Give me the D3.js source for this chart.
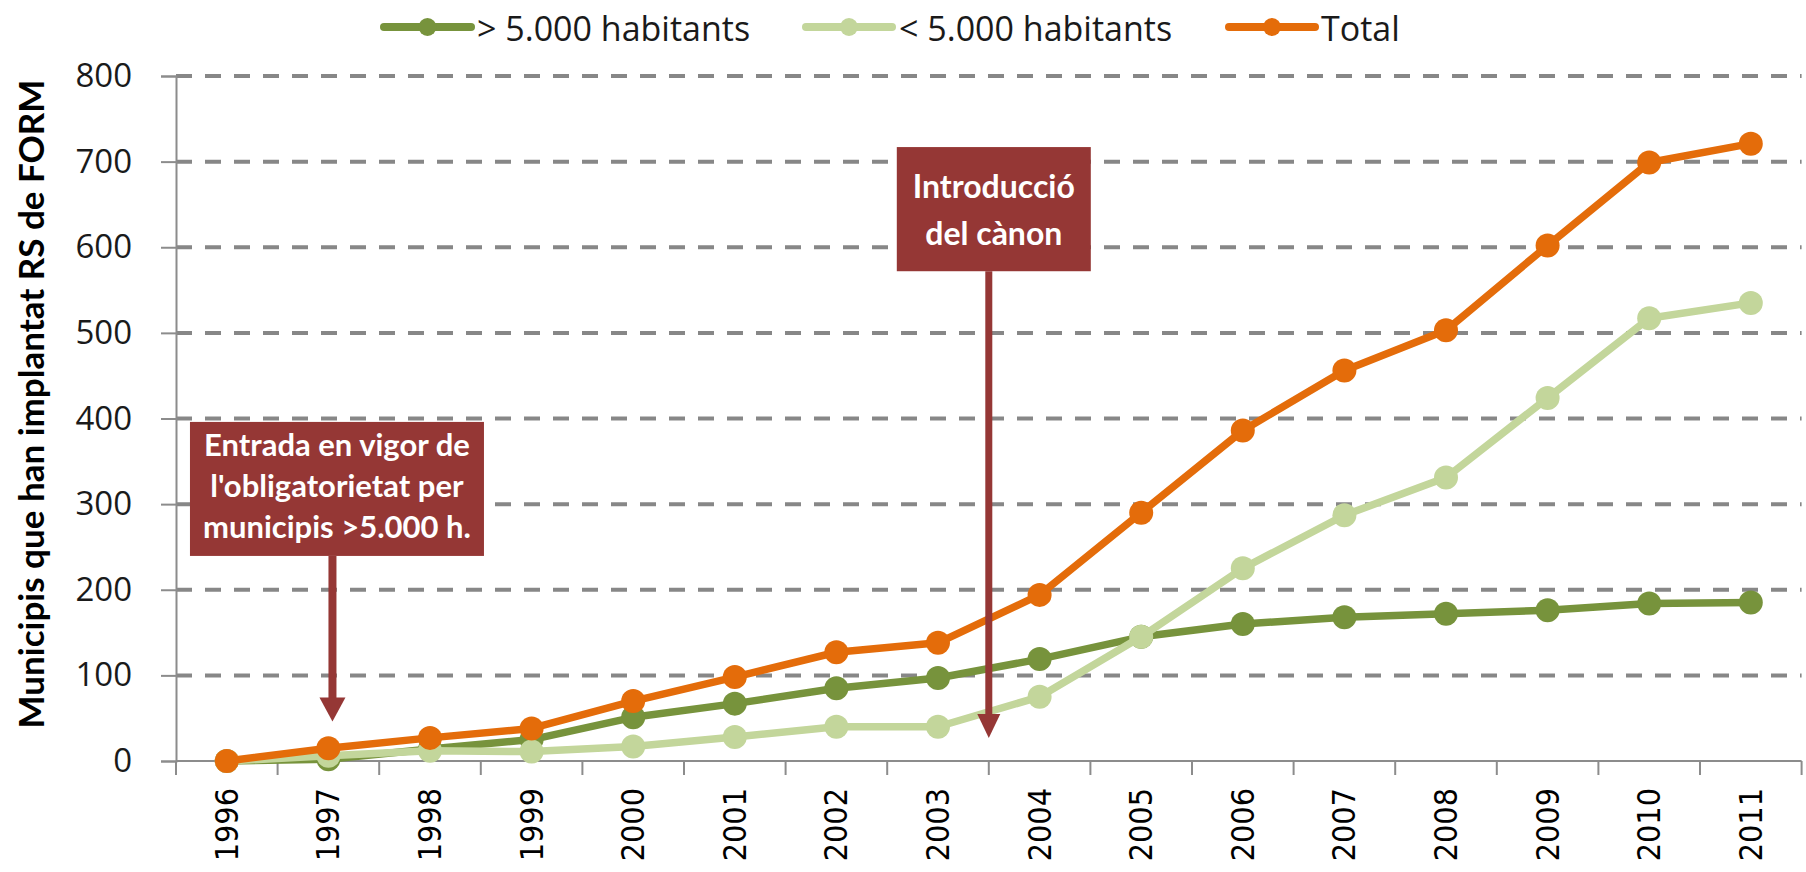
<!DOCTYPE html>
<html>
<head>
<meta charset="utf-8">
<script src="https://cdn.jsdelivr.net/npm/d3@7"></script>
<style>
  html, body { margin: 0; padding: 0; background: #ffffff; }
  svg { display: block; }
</style>
</head>
<body>
<svg id="chart" width="1806" height="872"></svg>
<script>
// ---------------- DATA ----------------
const years = ["1996","1997","1998","1999","2000","2001","2002","2003","2004","2005","2006","2007","2008","2009","2010","2011"];
const over5000  = [0, 2, 14, 25, 51, 67, 85, 97, 119, 145, 160, 168, 172, 176, 184, 185];
const under5000 = [0, 6, 12, 11, 17, 28, 40, 40, 75, 145, 225, 287, 331, 424, 517, 535];
const total     = [0, 15, 27, 38, 70, 98, 127, 138, 194, 290, 386, 456, 503, 602, 699, 721];
const yTicks = [0, 100, 200, 300, 400, 500, 600, 700, 800];
const seriesNames = ["> 5.000 habitants", "< 5.000 habitants", "Total"];
const yTitle = "Municipis que han implantat RS de FORM";
const note1Lines = ["Entrada en vigor de", "l'obligatorietat per", "municipis >5.000 h."];
const note2Lines = ["Introducció", "del cànon"];

// ---------------- LAYOUT ----------------
const colors = ["#77933C", "#C3D69B", "#E46C0A"];
const annColor = "#953735";
const svg = d3.select("#chart");
svg.append("rect").attr("width", 1806).attr("height", 872).attr("fill", "#fff");

const x = d3.scaleBand().domain(years).range([176, 1801.6]).padding(0);
const y = d3.scaleLinear().domain([0, 800]).range([761, 76]);
const cx = d => x(d) + x.bandwidth() / 2;
const xAt = i => x(years[0]) + x.bandwidth() / 2 + i * x.step();

const tickFont = "'Open Sans', 'Noto Sans', sans-serif";
const boldFont = "Lato, 'Open Sans', sans-serif";
const axisColor = "#8c8c8c";

// gridlines
svg.append("g").selectAll("line").data(yTicks.filter(t => t > 0)).join("line")
  .attr("x1", 176).attr("x2", 1801.6)
  .attr("y1", d => y(d)).attr("y2", d => y(d))
  .attr("stroke", "#878787").attr("stroke-width", 4)
  .attr("stroke-dasharray", "16,13");

// y axis
const yAxis = d3.axisLeft(y).tickValues(yTicks).tickSize(15).tickPadding(29).tickFormat(d3.format("d"));
const gy = svg.append("g").attr("transform", "translate(176,0)").call(yAxis);
gy.select(".domain").attr("stroke", axisColor).attr("stroke-width", 2);
gy.selectAll(".tick line").attr("stroke", axisColor).attr("stroke-width", 2);
gy.selectAll(".tick text").attr("font-family", tickFont).attr("font-size", 33).attr("fill", "#1a1a1a");

// x axis line and boundary ticks
svg.append("line").attr("x1", 176).attr("x2", 1801.6).attr("y1", y(0)).attr("y2", y(0))
  .attr("stroke", axisColor).attr("stroke-width", 2);
const bounds = years.map(d => x(d)).concat([x(years[years.length - 1]) + x.bandwidth()]);
svg.append("g").selectAll("line").data(bounds).join("line")
  .attr("x1", d => d).attr("x2", d => d).attr("y1", y(0)).attr("y2", y(0) + 14)
  .attr("stroke", axisColor).attr("stroke-width", 2);

// x labels (rotated)
svg.append("g").selectAll("text").data(years).join("text")
  .attr("transform", d => `translate(${cx(d)},${y(0) + 27}) rotate(-90)`)
  .attr("text-anchor", "end").attr("dominant-baseline", "central")
  .attr("font-family", "'DejaVu Sans Condensed', 'DejaVu Sans', sans-serif")
  .attr("font-stretch", "condensed")
  .attr("font-size", 32).attr("fill", "#000")
  .text(d => d);

// y title
svg.append("text")
  .attr("transform", `translate(30,404) rotate(-90)`)
  .attr("text-anchor", "middle").attr("dominant-baseline", "central")
  .attr("font-family", boldFont).attr("font-weight", "bold")
  .attr("font-size", 35).attr("fill", "#000")
  .text(yTitle);

// ---------------- SERIES ----------------
const allSeries = [over5000, under5000, total];
const line = d3.line().x((d, i) => cx(years[i])).y(d => y(d));
allSeries.forEach((vals, s) => {
  const g = svg.append("g");
  g.append("path").datum(vals).attr("d", line)
    .attr("fill", "none").attr("stroke", colors[s]).attr("stroke-width", 7.5)
    .attr("stroke-linejoin", "round");
  g.selectAll("circle").data(vals).join("circle")
    .attr("cx", (d, i) => cx(years[i])).attr("cy", d => y(d)).attr("r", 12)
    .attr("fill", colors[s]);
});

// ---------------- LEGEND ----------------
const legendItems = [
  { x1: 384, x2: 471, tx: 477 },
  { x1: 806, x2: 892, tx: 899 },
  { x1: 1229, x2: 1315, tx: 1321 }
];
const lg = svg.append("g");
legendItems.forEach((it, i) => {
  lg.append("line").attr("x1", it.x1).attr("x2", it.x2).attr("y1", 27).attr("y2", 27)
    .attr("stroke", colors[i]).attr("stroke-width", 8).attr("stroke-linecap", "round");
  lg.append("circle").attr("cx", (it.x1 + it.x2) / 2).attr("cy", 27).attr("r", 9).attr("fill", colors[i]);
  lg.append("text").attr("x", it.tx).attr("y", 28).attr("dominant-baseline", "central")
    .attr("font-family", tickFont).attr("font-size", 34).attr("fill", "#1a1a1a")
    .text(seriesNames[i]);
});

// ---------------- ANNOTATIONS ----------------
function annotate(opts) {
  const g = svg.append("g");
  const ax = xAt(opts.pos);
  const top = y(opts.top), bot = y(opts.bottom), tip = y(opts.tip);
  const bx = ax + opts.dx - opts.w / 2;
  g.append("line").attr("x1", ax).attr("x2", ax).attr("y1", bot).attr("y2", tip - 20)
    .attr("stroke", annColor).attr("stroke-width", opts.stem);
  g.append("path")
    .attr("d", `M${ax - opts.head / 2},${tip - 24} L${ax + opts.head / 2},${tip - 24} L${ax},${tip} Z`)
    .attr("fill", annColor);
  g.append("rect").attr("x", bx).attr("y", top).attr("width", opts.w).attr("height", bot - top)
    .attr("fill", annColor);
  opts.lines.forEach((t, i) => {
    g.append("text").attr("x", bx + opts.w / 2).attr("y", top + opts.firstBase + i * opts.lh)
      .attr("text-anchor", "middle")
      .attr("font-family", boldFont).attr("font-weight", "bold")
      .attr("font-size", opts.fs).attr("fill", "#fff")
      .text(t);
  });
}
annotate({ pos: 1.04, dx: 4.5, w: 294, top: 396, bottom: 239.5, tip: 46, stem: 8, head: 26,
  lines: note1Lines, firstBase: 34, lh: 41, fs: 31 });
annotate({ pos: 7.5, dx: 5, w: 194, top: 717, bottom: 572, tip: 27, stem: 7, head: 23,
  lines: note2Lines, firstBase: 51, lh: 47, fs: 32 });
</script>
</body>
</html>
